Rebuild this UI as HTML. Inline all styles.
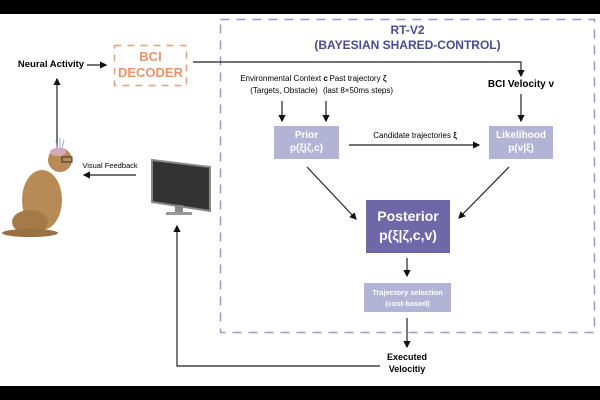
<!DOCTYPE html>
<html><head><style>
body{margin:0;width:600px;height:400px;background:#fff;position:relative;overflow:hidden;font-family:"Liberation Sans",sans-serif}
.t{position:absolute;text-align:center;white-space:nowrap}
</style></head><body>
<svg width="600" height="400" style="position:absolute;left:0;top:0">
<defs><marker id="a" markerWidth="6" markerHeight="6" refX="5" refY="3" orient="auto"><path d="M0,0L6,3L0,6z" fill="#111"/></marker></defs>
<rect x="0" y="0" width="600" height="14" fill="#000"/>
<rect x="0" y="386" width="600" height="14" fill="#000"/>
<rect x="220.5" y="19.5" width="374" height="313" fill="none" stroke="#9a98c8" stroke-width="1.5" stroke-dasharray="9,7"/>
<rect x="114.5" y="45.5" width="72" height="40" fill="none" stroke="#e8a07a" stroke-width="1.5" stroke-dasharray="7,6"/>
<g stroke="#222" stroke-width="1.2" fill="none">
<line x1="87" y1="65" x2="106" y2="65" marker-end="url(#a)"/>
<polyline points="193,62 521,62 521,76" marker-end="url(#a)"/>
<line x1="521" y1="94" x2="521" y2="121" marker-end="url(#a)"/>
<line x1="282" y1="101" x2="282" y2="121" marker-end="url(#a)"/>
<line x1="326" y1="101" x2="326" y2="121" marker-end="url(#a)"/>
<line x1="349" y1="145" x2="479" y2="145" marker-end="url(#a)"/>
<line x1="307" y1="167" x2="356" y2="219" marker-end="url(#a)"/>
<line x1="509" y1="167" x2="459" y2="218" marker-end="url(#a)"/>
<line x1="407" y1="258" x2="407" y2="276" marker-end="url(#a)"/>
<line x1="407" y1="318" x2="407" y2="347" marker-end="url(#a)"/>
<polyline points="380,366 177,366 177,226" marker-end="url(#a)"/>
<line x1="136" y1="175" x2="84" y2="175" marker-end="url(#a)"/>
<line x1="57" y1="155" x2="57" y2="79" marker-end="url(#a)"/>
</g>
<rect x="274" y="126" width="65" height="33" fill="#b3b3d6"/>
<rect x="489" y="126" width="64" height="33" fill="#b3b3d6"/>
<rect x="366" y="200" width="84" height="53" fill="#6e68a8"/>
<rect x="364" y="283" width="87" height="29" fill="#b3b3d6"/>
<!-- monitor -->
<polygon points="152,160 210,167 210,211 152,202" fill="#333" stroke="#888" stroke-width="2"/>
<rect x="175" y="205" width="8" height="8" fill="#888"/>
<rect x="166" y="212" width="26" height="3" fill="#999"/>
<!-- monkey -->
<ellipse cx="42" cy="200" rx="20" ry="30" fill="#b88a55"/>
<ellipse cx="30" cy="222" rx="18" ry="12" fill="#a47a48"/>
<circle cx="60" cy="160" r="12" fill="#b88a55"/>
<ellipse cx="58" cy="152" rx="8" ry="4" fill="#d9a8b8"/>
<rect x="62" y="157" width="10" height="5" fill="none" stroke="#333"/>
<ellipse cx="30" cy="233" rx="28" ry="4" fill="#9a7040"/>
<path d="M56,140 L57,149 M60,138 L60,149 M64,140 L62,149" stroke="#9ac" fill="none"/>
</svg>
<div class="t" style="left:12px;top:59px;width:78px;font-size:9.5px;font-weight:bold">Neural Activity</div>
<div class="t" style="left:114px;top:49px;width:73px;font-size:13px;font-weight:bold;color:#e8946a;line-height:16px">BCI<br>DECODER</div>
<div class="t" style="left:300px;top:23px;width:215px;font-size:12px;font-weight:bold;color:#4a4a90;line-height:15px">RT-V2<br>(BAYESIAN SHARED-CONTROL)</div>
<div class="t" style="left:222px;top:73px;width:124px;font-size:8px;line-height:12px">Environmental Context <b>c</b><br>(Targets, Obstacle)</div>
<div class="t" style="left:318px;top:73px;width:80px;font-size:8px;line-height:12px">Past trajectory <b>ζ</b><br>(last 8×50ms steps)</div>
<div class="t" style="left:480px;top:79px;width:82px;font-size:10px;font-weight:bold">BCI Velocity v</div>
<div class="t" style="left:274px;top:129px;width:65px;font-size:10px;font-weight:bold;color:#fff;line-height:13px">Prior<br>p(ξ|ζ,c)</div>
<div class="t" style="left:489px;top:129px;width:64px;font-size:10px;font-weight:bold;color:#fff;line-height:13px">Likelihood<br>p(v|ξ)</div>
<div class="t" style="left:355px;top:131px;width:120px;font-size:8px">Candidate trajectories <b>ξ</b></div>
<div class="t" style="left:366px;top:207px;width:84px;font-size:14px;font-weight:bold;color:#fff;line-height:19px">Posterior<br>p(ξ|ζ,c,v)</div>
<div class="t" style="left:364px;top:287px;width:87px;font-size:7.5px;font-weight:bold;color:#fff;line-height:11px">Trajectory selection<br>(cost-based)</div>
<div class="t" style="left:370px;top:351px;width:74px;font-size:9px;font-weight:bold;line-height:12px">Executed<br>Velocitiy</div>
<div class="t" style="left:80px;top:161px;width:60px;font-size:7.5px">Visual Feedback</div>
</body></html>
